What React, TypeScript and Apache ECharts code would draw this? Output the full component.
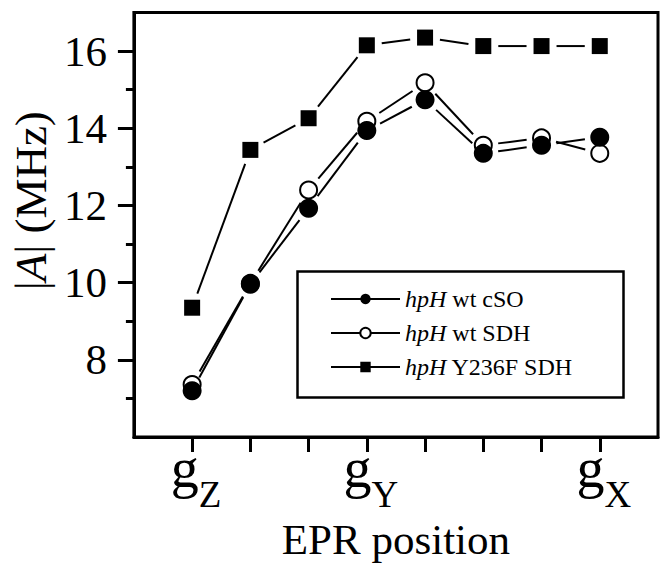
import React, { useEffect, useRef } from "react";
import * as echarts from "echarts";

// ---- data ----
const positionLabels = ["", "Z", "", "", "Y", "", "", "", "X", ""];
const positionIndex = [1, 2, 3, 4, 5, 6, 7, 8];
const seriesNames = ["hpH wt cSO", "hpH wt SDH", "hpH Y236F SDH"];
const wtCSO = [7.2, 9.96, 11.93, 13.94, 14.74, 13.35, 13.56, 13.77];
const wtSDH = [7.36, 9.98, 12.4, 14.18, 15.18, 13.56, 13.75, 13.35];
const y236fSDH = [9.35, 13.44, 14.26, 16.15, 16.35, 16.13, 16.13, 16.13];
const yMajorTicks = [8, 10, 12, 14, 16];
const yMinorTicks = [7, 9, 11, 13, 15];

const SERIF = "Liberation Serif";
const GAP = 15;

function buildSegments(values: number[]) {
  const segs: number[][] = [];
  for (let i = 0; i < values.length - 1; i++) {
    segs.push([positionIndex[i], values[i], positionIndex[i + 1], values[i + 1]]);
  }
  return segs;
}

function tok(size: number, extra: any = {}) {
  return { fontFamily: SERIF, fontSize: size, color: "#000", ...extra };
}

export default function App() {
  const ref = useRef<HTMLDivElement>(null);
  useEffect(() => {
    if (!ref.current) return;
    const chart = echarts.init(ref.current, undefined, { renderer: "svg" });
    const segments = [...buildSegments(wtCSO), ...buildSegments(wtSDH), ...buildSegments(y236fSDH)];
    const hiddenLine = { width: 0, opacity: 0, color: "rgba(0,0,0,0)" };
    const option: any = {
      animation: false,
      backgroundColor: "#fff",
      textStyle: { fontFamily: SERIF },
      grid: {
        left: 130, right: 13, top: 12.5, bottom: 136,
        show: true, borderColor: "#000", borderWidth: 3, backgroundColor: "transparent",
      },
      xAxis: {
        type: "category",
        data: positionLabels.map((_, i) => String(i)),
        boundaryGap: false,
        axisLine: { lineStyle: { color: "#000", width: 3 } },
        axisTick: {
          show: true, length: 15, lineStyle: { width: 3, color: "#000" },
          interval: (i: number) => i >= 1 && i <= positionLabels.length - 2,
        },
        axisLabel: {
          interval: (i: number) => positionLabels[i] !== "",
          formatter: (_v: string, i: number) => `{g|g}{s|${positionLabels[i]}}`,
          margin: 3,
          padding: [0, 0, 0, 8],
          fontFamily: SERIF,
          rich: {
            g: tok(56, { verticalAlign: "bottom", padding: [0, 0, 17, 0] }),
            s: tok(37, { verticalAlign: "bottom" }),
          },
        },
        splitLine: { show: false },
        name: "{t|EPR position}",
        nameLocation: "middle",
        nameGap: 80,
        nameTextStyle: { fontFamily: SERIF, fontSize: 43, color: "#000", rich: { t: tok(43) } },
      },
      yAxis: [
        {
          type: "value", min: 6, max: 17, position: "left",
          axisLine: { show: true, lineStyle: { color: "#000", width: 3 } },
          axisTick: { show: true, customValues: yMajorTicks, length: 16, lineStyle: { width: 3, color: "#000" } },
          axisLabel: {
            customValues: yMajorTicks, margin: 27, fontFamily: SERIF, fontSize: 43, color: "#000",
            formatter: (v: number) => `{n|${v}}`,
            rich: { n: tok(43) },
          },
          splitLine: { show: false },
          name: "{t||}{i|A}{t|| (MHz)}",
          nameLocation: "middle",
          nameGap: 72,
          nameRotate: 90,
          nameTextStyle: {
            fontFamily: SERIF, fontSize: 45, color: "#000", padding: [0, 0, 0, 48],
            rich: { t: tok(45), i: tok(45, { fontStyle: "italic" }) },
          },
        },
        {
          type: "value", min: 6, max: 17, position: "left",
          axisLine: { show: false },
          axisTick: { show: true, customValues: yMinorTicks, length: 8, lineStyle: { width: 3, color: "#000" } },
          axisLabel: { show: false },
          splitLine: { show: false },
        },
      ],
      legend: {
        data: seriesNames,
        orient: "vertical",
        left: 330,
        top: 286,
        padding: 0,
        itemWidth: 69,
        itemHeight: 13,
        itemGap: 8,
        selectedMode: false,
        formatter: (n: string) => "{i|hpH}{t|" + n.slice(3) + "}",
        textStyle: {
          fontFamily: SERIF, fontSize: 24, color: "#000", lineHeight: 26,
          rich: {
            i: tok(24, { fontStyle: "italic", lineHeight: 26 }),
            t: tok(24, { lineHeight: 26 }),
          },
        },
        lineStyle: { color: "#000", width: 2, opacity: 1 },
      },
      graphic: [
        {
          type: "rect", left: 295, top: 269, z: 10,
          shape: { width: 326, height: 126 },
          style: { fill: "none", stroke: "#000", lineWidth: 2.5 },
        },
      ],
      series: [
        {
          type: "custom",
          silent: true,
          z: 2,
          encode: { x: [0, 2], y: [1, 3] },
          data: segments,
          renderItem: (_p: any, api: any) => {
            const a = api.coord([api.value(0), api.value(1)]);
            const b = api.coord([api.value(2), api.value(3)]);
            const dx = b[0] - a[0];
            const dy = b[1] - a[1];
            const len = Math.hypot(dx, dy);
            const g = Math.min(GAP, len / 2 - 1);
            const ux = dx / len, uy = dy / len;
            return {
              type: "line",
              shape: { x1: a[0] + ux * g, y1: a[1] + uy * g, x2: b[0] - ux * g, y2: b[1] - uy * g },
              style: { stroke: "#000", lineWidth: 2 },
            };
          },
        },
        {
          type: "line", name: seriesNames[2], silent: true, z: 3,
          data: y236fSDH.map((v, i) => [positionIndex[i], v]),
          symbol: "rect", symbolSize: 16, showSymbol: true,
          lineStyle: hiddenLine,
          itemStyle: { color: "#000", borderWidth: 0 },
        },
        {
          type: "line", name: seriesNames[1], silent: true, z: 4,
          data: wtSDH.map((v, i) => [positionIndex[i], v]),
          symbol: "emptyCircle", symbolSize: 17, showSymbol: true,
          lineStyle: hiddenLine,
          itemStyle: { color: "#000", borderColor: "#000", borderWidth: 2 },
        },
        {
          type: "line", name: seriesNames[0], silent: true, z: 5,
          data: wtCSO.map((v, i) => [positionIndex[i], v]),
          symbol: "circle", symbolSize: 19, showSymbol: true,
          lineStyle: hiddenLine,
          itemStyle: { color: "#000", borderWidth: 0 },
        },
      ],
    };
    chart.setOption(option);
    return () => chart.dispose();
  }, []);
  return (
    <div
      ref={ref}
      style={{ position: "absolute", left: 0, top: 0, width: 671, height: 573 }}
    />
  );
}
